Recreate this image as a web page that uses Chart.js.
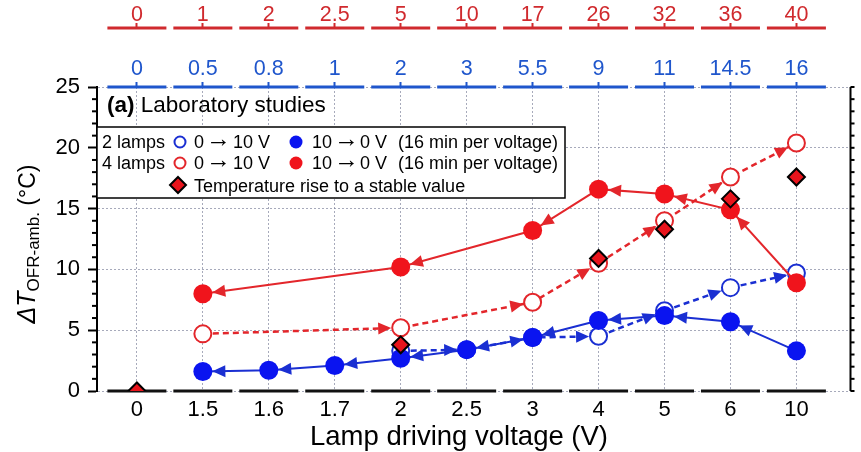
<!DOCTYPE html>
<html><head><meta charset="utf-8">
<script src="https://cdn.jsdelivr.net/npm/chart.js@4/dist/chart.umd.min.js"></script>
<style>html,body{margin:0;padding:0;background:#fff}canvas{display:block}</style>
</head><body>
<canvas id="c" width="861" height="452"></canvas>
<script>
// ---- data ----
const voltages     = ['0','1.5','1.6','1.7','2','2.5','3','4','5','6','10'];
const power4Lamps  = ['0','1','2','2.5','5','10','17','26','32','36','40'];
const power2Lamps  = ['0','0.5','0.8','1','2','3','5.5','9','11','14.5','16'];
const lamps2Up     = [null,null,null,null,3.3,3.4,4.4,4.5,6.6,8.5,9.7];
const lamps2Down   = [null,1.6,1.7,2.1,2.7,3.4,4.4,5.8,6.2,5.7,3.3];
const lamps4Up     = [null,4.7,null,null,5.2,null,7.3,10.5,14.0,17.6,20.4];
const lamps4Down   = [null,8.0,null,null,10.2,null,13.2,16.6,16.2,14.9,8.9];
const stableRise   = [0,null,null,null,3.8,null,null,10.9,13.3,15.8,17.6];
const yTicks       = [0,5,10,15,20,25];
const xTitle       = 'Lamp driving voltage (V)';

const F = '"Liberation Sans", Arial, sans-serif';
const RED = '#e3262b', RED_FILL = '#f0141c', RED_AX = '#d02a2e';
const BLUE = '#1a2fd2', BLUE_FILL = '#0a14f0', BLUE_AX = '#1f56cc';
const GRID = 'rgba(120,125,150,0.65)';
const XMIN = -0.605, XMAX = 10.82;

const toXY = a => a.map((v,i) => v == null ? null : {x:i, y:v}).filter(Boolean);
const catTicks = s => { s.ticks = voltages.map((_, i) => ({value:i})); };

Chart.defaults.font.family = F;

const datasets = [
  {label:'stable', data:toXY(stableRise), showLine:false, pointStyle:'rectRot', pointRadius:8.5,
   pointBackgroundColor:'#e8141c', pointBorderColor:'#000', pointBorderWidth:2, order:0},
  {label:'2 lamps 10->0', data:toXY(lamps2Down), showLine:true, borderColor:BLUE, borderWidth:2,
   pointRadius:9.5, pointBackgroundColor:BLUE_FILL, pointBorderColor:BLUE_FILL, pointBorderWidth:0, order:1, arrowDir:-1, tgtR:9.5},
  {label:'4 lamps 10->0', data:toXY(lamps4Down), showLine:true, borderColor:RED, borderWidth:2,
   pointRadius:9.5, pointBackgroundColor:RED_FILL, pointBorderColor:RED_FILL, pointBorderWidth:0, order:2, arrowDir:-1, tgtR:9.5},
  {label:'2 lamps 0->10', data:toXY(lamps2Up), showLine:true, borderColor:BLUE, borderWidth:2.5, borderDash:[6,4],
   pointRadius:8.5, pointBackgroundColor:'#fff', pointBorderColor:BLUE, pointBorderWidth:2, order:3, arrowDir:1, tgtR:9.5},
  {label:'4 lamps 0->10', data:toXY(lamps4Up), showLine:true, borderColor:RED, borderWidth:2.5, borderDash:[6,4],
   pointRadius:8.5, pointBackgroundColor:'#fff', pointBorderColor:RED, pointBorderWidth:2, order:4, arrowDir:1, tgtR:9.5}
];

function arrowHead(ctx, x0, y0, x1, y1, r, color) {
  const dx = x1 - x0, dy = y1 - y0, L = Math.hypot(dx, dy);
  if (L < 2*r + 4) return;
  const ux = dx / L, uy = dy / L;
  const tx = x1 - ux * r, ty = y1 - uy * r;
  const len = 13, hw = 6;
  const bx = tx - ux * len, by = ty - uy * len;
  ctx.beginPath();
  ctx.moveTo(tx, ty);
  ctx.lineTo(bx - uy * hw, by + ux * hw);
  ctx.lineTo(bx + uy * hw, by - ux * hw);
  ctx.closePath();
  ctx.fillStyle = color;
  ctx.fill();
}

const decor = {
  id:'decor',
  beforeDatasetsDraw(chart) {
    const {ctx, chartArea:ca, scales} = chart;
    const xs = scales.x;
    ctx.save();
    // segmented axis lines
    const seg = (y, color) => {
      ctx.strokeStyle = color; ctx.lineWidth = 3; ctx.setLineDash([]);
      voltages.forEach((_, i) => {
        const px = xs.getPixelForValue(i);
        ctx.beginPath(); ctx.moveTo(px - 29.5, y); ctx.lineTo(px + 29.5, y); ctx.stroke();
      });
    };
    seg(scales.xRed.bottom, RED_AX);
    seg(ca.top, BLUE_AX);
    seg(ca.bottom, '#111');
    // right border with ticks, left minor ticks
    ctx.strokeStyle = '#000'; ctx.lineWidth = 2;
    ctx.beginPath(); ctx.moveTo(ca.right, ca.top); ctx.lineTo(ca.right, ca.bottom); ctx.stroke();
    const ys = scales.y;
    for (let v = 0; v <= 25; v++) {
      const py = ys.getPixelForValue(v);
      ctx.beginPath(); ctx.moveTo(ca.right, py); ctx.lineTo(ca.right + 4, py); ctx.stroke();
      if (v % 5 !== 0) {
        ctx.beginPath(); ctx.moveTo(ca.left, py); ctx.lineTo(ca.left - 5, py); ctx.stroke();
      }
    }
    // x axis title
    ctx.fillStyle = '#000';
    ctx.textBaseline = 'alphabetic';
    ctx.textAlign = 'center';
    ctx.font = '27.5px ' + F;
    ctx.fillText(xTitle, 459, 445);
    ctx.textAlign = 'left';
    // panel label
    ctx.font = 'bold 22.5px ' + F;
    const ax = ca.left + 10, ay = ca.top + 25;
    ctx.fillText('(a)', ax, ay);
    const w1 = ctx.measureText('(a)').width;
    ctx.font = '22.5px ' + F;
    ctx.fillText(' Laboratory studies', ax + w1, ay);
    // legend box
    const bx = ca.left, by = ca.top + 40, bw = 468, bh = 71;
    ctx.fillStyle = '#fff'; ctx.fillRect(bx, by, bw, bh);
    ctx.strokeStyle = '#000'; ctx.lineWidth = 1.5; ctx.strokeRect(bx, by, bw, bh);
    const AR = '25px ' + F;
    const TX = '18px ' + F;
    const rows = [{t:'2 lamps', c:BLUE, f:BLUE_FILL, y:by + 21}, {t:'4 lamps', c:RED, f:RED_FILL, y:by + 42}];
    rows.forEach(r => {
      ctx.fillStyle = '#000';
      ctx.font = TX;
      ctx.fillText(r.t, bx + 5, r.y);
      ctx.fillText('0', bx + 97, r.y);
      ctx.fillText('10 V', bx + 136, r.y);
      ctx.fillText('10', bx + 215, r.y);
      ctx.fillText('0 V', bx + 263, r.y);
      ctx.fillText('(16 min per voltage)', bx + 301, r.y);
      ctx.font = AR;
      ctx.fillText('\u2192', bx + 109, r.y - 1);
      ctx.fillText('\u2192', bx + 237, r.y - 1);
      ctx.beginPath(); ctx.arc(bx + 83, r.y - 6, 5.5, 0, Math.PI*2);
      ctx.fillStyle = '#fff'; ctx.fill(); ctx.strokeStyle = r.c; ctx.lineWidth = 2; ctx.stroke();
      ctx.beginPath(); ctx.arc(bx + 199, r.y - 6, 6.5, 0, Math.PI*2);
      ctx.fillStyle = r.f; ctx.fill();
    });
    const dy = by + 58, dx = bx + 81;
    ctx.beginPath(); ctx.moveTo(dx, dy - 8); ctx.lineTo(dx + 8, dy); ctx.lineTo(dx, dy + 8); ctx.lineTo(dx - 8, dy); ctx.closePath();
    ctx.fillStyle = '#e8141c'; ctx.fill(); ctx.strokeStyle = '#000'; ctx.lineWidth = 2; ctx.stroke();
    ctx.fillStyle = '#000'; ctx.font = TX;
    ctx.fillText('Temperature rise to a stable value', bx + 97, by + 65);
    // y axis title
    ctx.save();
    ctx.translate(35, (ca.top + ca.bottom) / 2 + 5);
    ctx.rotate(-Math.PI / 2);
    const parts = [
      {t:'\u0394', f:'italic 25px ' + F, dy:0},
      {t:'T', f:'italic 25px ' + F, dy:0},
      {t:'OFR-amb.', f:'17px ' + F, dy:4},
      {t:' (\u00B0C)', f:'23px ' + F, dy:0}
    ];
    let tot = 0;
    parts.forEach(p => { ctx.font = p.f; p.w = ctx.measureText(p.t).width; tot += p.w; });
    let cx = -tot / 2;
    parts.forEach(p => { ctx.font = p.f; ctx.fillStyle = '#000'; ctx.fillText(p.t, cx, p.dy); cx += p.w; });
    ctx.restore();
    ctx.restore();
  },
  afterDatasetsDraw(chart) {
    const ctx = chart.ctx;
    ctx.save();
    chart.data.datasets.forEach((ds, di) => {
      if (!ds.arrowDir) return;
      const pts = chart.getDatasetMeta(di).data;
      for (let k = 0; k < pts.length - 1; k++) {
        const a = pts[k], b = pts[k + 1];
        if (ds.arrowDir > 0) arrowHead(ctx, a.x, a.y, b.x, b.y, ds.tgtR, ds.borderColor);
        else arrowHead(ctx, b.x, b.y, a.x, a.y, ds.tgtR, ds.borderColor);
      }
    });
    ctx.restore();
  }
};

new Chart(document.getElementById('c'), {
  type:'scatter',
  data:{datasets},
  options:{
    responsive:false, animation:false, devicePixelRatio:1,
    layout:{padding:{left:0, right:3, top:0, bottom:0}},
    plugins:{legend:{display:false}, tooltip:{enabled:false}},
    scales:{
      x:{type:'linear', position:'bottom', min:XMIN, max:XMAX, afterBuildTicks:catTicks,
         ticks:{callback:v => voltages[v], font:{size:22}, color:'#000', padding:6, maxRotation:0, autoSkip:false},
         grid:{color:GRID, lineWidth:1, drawTicks:false},
         border:{display:false, dash:[2,2]},
         afterFit:s => { s.height = 61; }},
      xRed:{type:'linear', position:'top', weight:2, min:XMIN, max:XMAX, afterBuildTicks:catTicks,
         ticks:{callback:v => power4Lamps[v], font:{size:21.5}, color:RED_AX, padding:-5, maxRotation:0, autoSkip:false},
         grid:{display:true, drawOnChartArea:false, drawTicks:true, tickLength:5, tickWidth:2, tickColor:RED_AX},
         border:{display:false},
         afterFit:s => { s.height = 28; }},
      xBlue:{type:'linear', position:'top', weight:1, min:XMIN, max:XMAX, afterBuildTicks:catTicks,
         ticks:{callback:v => power2Lamps[v], font:{size:21.5}, color:BLUE_AX, padding:0, maxRotation:0, autoSkip:false},
         grid:{display:true, drawOnChartArea:false, drawTicks:true, tickLength:5, tickWidth:2, tickColor:BLUE_AX},
         border:{display:false},
         afterFit:s => { s.height = 59; }},
      y:{type:'linear', position:'left', min:0, max:25, afterBuildTicks:s => { s.ticks = yTicks.map(v => ({value:v})); },
         ticks:{font:{size:22}, color:'#000', padding:8},
         grid:{color:GRID, lineWidth:1, tickColor:'#000', tickLength:9, tickWidth:2},
         border:{display:true, color:'#000', width:2, dash:[2,2]},
         afterFit:s => { s.width = 97; }}
    }
  },
  plugins:[decor]
});
</script>
</body></html>
